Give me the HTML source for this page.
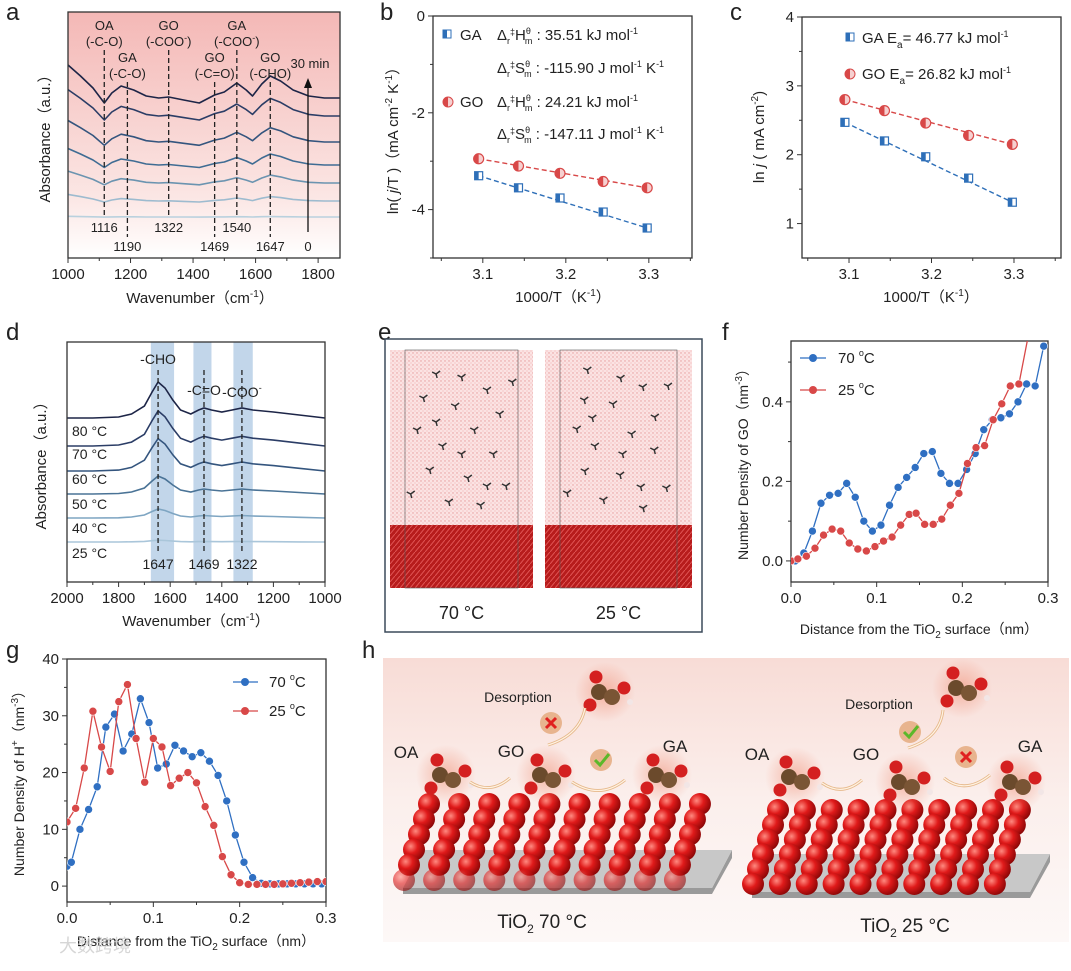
<!DOCTYPE html>
<html><head><meta charset="utf-8">
<style>
html,body{margin:0;padding:0;background:#fff;}
svg{display:block;font-family:"Liberation Sans","Noto Sans CJK SC",sans-serif;}
</style></head>
<body>
<svg id="fig" width="1071" height="971" viewBox="0 0 1071 971" xmlns="http://www.w3.org/2000/svg">
<defs>
 <linearGradient id="pinkA" x1="0" y1="0" x2="0" y2="1">
  <stop offset="0" stop-color="#f4b8b6"/><stop offset="0.75" stop-color="#fbe6e4"/><stop offset="1" stop-color="#ffffff"/>
 </linearGradient>
 <linearGradient id="bgH" x1="0" y1="0" x2="0" y2="1">
  <stop offset="0" stop-color="#f8dcd6"/><stop offset="0.5" stop-color="#fbefec"/><stop offset="1" stop-color="#fdf8f7"/>
 </linearGradient>
 <radialGradient id="ball" cx="0.35" cy="0.35" r="0.7">
  <stop offset="0" stop-color="#ff8a80"/><stop offset="0.45" stop-color="#e01a1a"/><stop offset="1" stop-color="#8a0606"/>
 </radialGradient>
 <radialGradient id="glow" cx="0.5" cy="0.5" r="0.5">
  <stop offset="0" stop-color="#f08a70" stop-opacity="0.55"/><stop offset="1" stop-color="#f08a70" stop-opacity="0"/>
 </radialGradient>
 <pattern id="water" width="4" height="4" patternUnits="userSpaceOnUse">
  <rect width="4" height="4" fill="#fbe3e3"/><circle cx="1" cy="1" r="0.7" fill="#e79a9a"/><circle cx="3" cy="3" r="0.6" fill="#f0b5b5"/>
 </pattern>
 <pattern id="crystal" width="5" height="6" patternUnits="userSpaceOnUse">
  <rect width="5" height="6" fill="#b71c1c"/><line x1="0" y1="6" x2="5" y2="0" stroke="#e05555" stroke-width="1"/>
 </pattern>
</defs>
<rect width="1071" height="971" fill="#fff"/>
<g id="root"></g>
</svg>
<script>
// ---------- DATA ----------
const aWaven = [1000,1040,1080,1116,1140,1170,1210,1250,1290,1322,1370,1420,1469,1500,1540,1570,1590,1620,1647,1680,1720,1770,1820,1870];
const aShape = [33,22,10,-5,5,12,8,2,0,1,-2,-5,3,6,15,8,2,14,22,17,8,2,0,0];
const aScales = [1,0.8,0.65,0.5,0.36,0.2,0.02];
const aBaselines = [98,116,142,165,183,201,217];
const aPeaks = [1116,1190,1322,1469,1540,1647];
const bX = [3.095,3.143,3.193,3.245,3.298];
const bGA = [-3.3,-3.55,-3.76,-4.05,-4.38];
const bGO = [-2.95,-3.1,-3.25,-3.42,-3.55];
const cX = [3.095,3.143,3.193,3.245,3.298];
const cGA = [2.47,2.2,1.97,1.66,1.31];
const cGO = [2.8,2.64,2.46,2.28,2.15];
const dWaven = [2000,1900,1800,1750,1700,1670,1647,1620,1590,1560,1520,1490,1469,1440,1400,1360,1322,1280,1200,1100,1000];
const dShape = [0,0,0.5,2,6,13,18,15,9,4,2,4,5,4,3,4,5,4,3,1.5,0];
const dScales = [2,1.95,1.8,1,0.5,0.1];
const dBaselines = [418,446,471,494,518,542];
const dLabels = ["80 °C","70 °C","60 °C","50 °C","40 °C","25 °C"];
const f70x = [0.005,0.015,0.025,0.035,0.045,0.055,0.065,0.075,0.085,0.095,0.105,0.115,0.125,0.135,0.145,0.155,0.165,0.175,0.185,0.195,0.205,0.215,0.225,0.235,0.245,0.255,0.265,0.275,0.285,0.295];
const f70y = [0,0.02,0.075,0.145,0.165,0.17,0.195,0.16,0.1,0.075,0.09,0.14,0.185,0.21,0.235,0.27,0.275,0.22,0.195,0.195,0.23,0.27,0.33,0.355,0.36,0.37,0.4,0.445,0.44,0.54];
const f25x = [0,0.008,0.018,0.028,0.038,0.048,0.058,0.068,0.078,0.088,0.098,0.108,0.118,0.128,0.138,0.146,0.156,0.166,0.176,0.186,0.196,0.206,0.216,0.226,0.236,0.246,0.256,0.266,0.28];
const f25y = [0,0.005,0.012,0.032,0.065,0.08,0.075,0.045,0.03,0.025,0.036,0.05,0.06,0.09,0.117,0.12,0.092,0.092,0.105,0.14,0.17,0.245,0.285,0.29,0.355,0.395,0.44,0.445,0.6];
const g70x = [0,0.005,0.015,0.025,0.035,0.045,0.055,0.065,0.075,0.085,0.095,0.105,0.115,0.125,0.135,0.145,0.155,0.165,0.175,0.185,0.195,0.205,0.215,0.225,0.235,0.245,0.255,0.265,0.275,0.285,0.295];
const g70y = [3.5,4.2,10,13.5,17.5,28,30.3,23.8,26.8,33,28.8,20.8,21.5,24.8,23.8,22.8,23.5,22,19.5,15,9,4.2,1.5,0.5,0.4,0.4,0.4,0.4,0.4,0.4,0.4];
const g25x = [0,0.01,0.02,0.03,0.04,0.05,0.06,0.07,0.08,0.09,0.1,0.11,0.12,0.13,0.14,0.15,0.16,0.17,0.18,0.19,0.2,0.21,0.22,0.23,0.24,0.25,0.26,0.27,0.28,0.29,0.3];
const g25y = [11.3,13.7,20.8,30.8,24.5,20.2,32.5,35.5,26,18.3,26,24.5,17.7,19,20,18.2,14,10.7,5.2,2,0.6,0.3,0.3,0.3,0.3,0.4,0.5,0.6,0.7,0.8,0.8];

const BLUE="#2f6fc2", RED="#d84848";
const NS="http://www.w3.org/2000/svg";
const root=document.getElementById('root');
function mk(tag,attrs,parent){const e=document.createElementNS(NS,tag);for(const k in attrs)e.setAttribute(k,attrs[k]);(parent||root).appendChild(e);return e;}
function txt(s,x,y,size,anchor,parent,extra){const t=mk('text',Object.assign({x:x,y:y,'font-size':size,'text-anchor':anchor||'middle',fill:'#222'},extra||{}),parent);t.innerHTML=s;return t;}
function lin(d0,d1,r0,r1){return v=>r0+(v-d0)*(r1-r0)/(d1-d0);}

[['a',6,20],['b',380,20],['c',730,20],['d',6,340],['e',378,340],['f',722,340],['g',6,658],['h',362,658]].forEach(p=>{
 const t=txt(p[0],p[1],p[2],24,'start');
 
 
});

function box(g,x0,y0,x1,y1){return mk('rect',{x:x0,y:y0,width:x1-x0,height:y1-y0,fill:'none',stroke:'#333','stroke-width':1.3},g);}

// ---------- PANEL A ----------
(function(){
 const g=mk('g',{});
 
 
 const X=lin(1000,1870,68,340);
 const bg=mk('rect',{x:68,y:12,width:272,height:246,fill:'url(#pinkA)'},g);
 
 
 const cols=['#1d2547','#2b3d66','#34557e','#3f6c93','#6b94b0','#9dbbcf','#b9d1de'];
 aScales.forEach((s,i)=>{
  let d='';aWaven.forEach((w,j)=>{d+=(j?'L':'M')+X(w).toFixed(1)+','+(aBaselines[i]-aShape[j]*s).toFixed(1);});
  const p=mk('path',{d:d,fill:'none',stroke:cols[i],'stroke-width':1.6,'stroke-linejoin':'round'},g);
  
  
 });
 const lab=[["OA","(-C-O)",30,46],["GA","(-C-O)",62,78],["GO","(-COO<tspan font-size='9' dy='-5'>-</tspan><tspan dy='5'>)</tspan>",30,46],["GO","(-C=O)",62,78],["GA","(-COO<tspan font-size='9' dy='-5'>-</tspan><tspan dy='5'>)</tspan>",30,46],["GO","(-CHO)",62,78]];
 const numY=[232,251,232,251,232,251];
 aPeaks.forEach((w,i)=>{
  const x=X(w);
  const l=mk('line',{x1:x,y1:lab[i][3]+4,x2:x,y2:numY[i]-14,stroke:'#222','stroke-width':1.3,'stroke-dasharray':'5,3'},g);
  
  
  txt(lab[i][0],x,lab[i][2],13,'middle',g);txt(lab[i][1],x,lab[i][3],13,'middle',g);
  txt(String(w),x,numY[i],13,'middle',g);
 });
 txt('30 min',310,68,13,'middle',g);txt('0',308,251,13,'middle',g);
 mk('line',{x1:308,y1:232,x2:308,y2:86,stroke:'#111','stroke-width':1.3},g);
 mk('path',{d:'M304,88 L308,78 L312,88Z',fill:'#111'},g);
 box(g,68,12,340,258);
 [1000,1200,1400,1600,1800].forEach(v=>{mk('line',{x1:X(v),y1:258,x2:X(v),y2:263,stroke:'#333'},g);txt(String(v),X(v),279,15,'middle',g);});
 [1100,1300,1500,1700].forEach(v=>mk('line',{x1:X(v),y1:258,x2:X(v),y2:261,stroke:'#333'},g));
 txt('Wavenumber（cm<tspan font-size="10" dy="-6">-1</tspan><tspan dy="6">）</tspan>',200,303,15,'middle',g);
 txt('Absorbance（a.u.）',0,0,15,'middle',g,{transform:'translate(50,135) rotate(-90)'});
})();

function scatterPanel(name,o){
 const g=mk('g',{});
 
 
 const X=lin(o.xd[0],o.xd[1],o.x0,o.x1),Y=lin(o.yd[0],o.yd[1],o.y1,o.y0);
 box(g,o.x0,o.y0,o.x1,o.y1);
 o.xt.forEach(v=>{mk('line',{x1:X(v),y1:o.y1,x2:X(v),y2:o.y1+5,stroke:'#333'},g);txt(o.xf(v),X(v),o.y1+21,15,'middle',g);});
 (o.xm||[]).forEach(v=>mk('line',{x1:X(v),y1:o.y1,x2:X(v),y2:o.y1+3,stroke:'#333'},g));
 o.yt.forEach(v=>{mk('line',{x1:o.x0,y1:Y(v),x2:o.x0-5,y2:Y(v),stroke:'#333'},g);txt(o.yf(v),o.x0-8,Y(v)+5,15,'end',g);});
 (o.ym||[]).forEach(v=>mk('line',{x1:o.x0,y1:Y(v),x2:o.x0-3,y2:Y(v),stroke:'#333'},g));
 const clip='clip-'+name;
 const cp=mk('clipPath',{id:clip},g);mk('rect',{x:o.x0,y:o.y0,width:o.x1-o.x0,height:o.y1-o.y0},cp);
 const inner=mk('g',{'clip-path':'url(#'+clip+')'},g);
 o.series.forEach(s=>{
  let d='';s.x.forEach((v,i)=>{d+=(i?'L':'M')+X(v).toFixed(1)+','+Y(s.y[i]).toFixed(1);});
  if(s.fit){d='M'+X(s.x[0])+','+Y(s.y[0])+'L'+X(s.x[s.x.length-1])+','+Y(s.y[s.y.length-1]);}
  const p=mk('path',{d:d,fill:'none',stroke:s.c,'stroke-width':s.fit?1.4:1.3,'stroke-dasharray':s.fit?'5,3':'none'},inner);
  
  
  s.x.forEach((v,i)=>{
   let m;
   if(s.sq){m=mk('rect',{x:X(v)-4,y:Y(s.y[i])-4,width:8,height:8,fill:'#fff',stroke:s.c,'stroke-width':1.2},inner);
     mk('rect',{x:X(v)-4,y:Y(s.y[i])-4,width:4,height:8,fill:s.c},inner);}
   else if(s.half){m=mk('circle',{cx:X(v),cy:Y(s.y[i]),r:5,fill:'#f6d0d0',stroke:s.c,'stroke-width':1.2},inner);
     mk('path',{d:`M${X(v)},${Y(s.y[i])-5}A5,5 0 0 0 ${X(v)},${Y(s.y[i])+5}Z`,fill:s.c},inner);}
   else {m=mk('circle',{cx:X(v),cy:Y(s.y[i]),r:4,fill:s.c,stroke:'#fff','stroke-width':0.6},inner);}
   
   
  });
 });
 return g;
}

// ---------- PANEL B ----------
(function(){
 const g=scatterPanel('panel-b-eyring-plot',{x0:433,x1:692,y0:16,y1:258,xd:[3.04,3.352],yd:[-5,0],
  xt:[3.1,3.2,3.3],xm:[3.05,3.15,3.25,3.35],xf:v=>v.toFixed(1),yt:[0,-2,-4],ym:[-1,-3,-5],yf:v=>String(v),
  series:[{n:'ga',x:bX,y:bGA,c:'#2e6fb8',sq:true,fit:true},{n:'go',x:bX,y:bGO,c:RED,half:true,fit:true}]});
 const H='Δ<tspan font-size="9" dy="4">r</tspan><tspan font-size="9" dy="-9">‡</tspan><tspan dy="5">H</tspan><tspan font-size="9" dy="-6">θ</tspan><tspan font-size="9" dx="-6" dy="10">m</tspan><tspan dy="-4">';
 const S='Δ<tspan font-size="9" dy="4">r</tspan><tspan font-size="9" dy="-9">‡</tspan><tspan dy="5">S</tspan><tspan font-size="9" dy="-6">θ</tspan><tspan font-size="9" dx="-6" dy="10">m</tspan><tspan dy="-4">';
 mk('rect',{x:443,y:30,width:8,height:8,fill:'#fff',stroke:'#2e6fb8'},g);mk('rect',{x:443,y:30,width:4,height:8,fill:'#2e6fb8'},g);
 txt('GA',460,40,15,'start',g);
 txt(H+' : 35.51 kJ mol<tspan font-size="9" dy="-6">-1</tspan></tspan>',497,40,15,'start',g);
 txt(S+' : -115.90 J mol<tspan font-size="9" dy="-6">-1</tspan><tspan dy="6"> K</tspan><tspan font-size="9" dy="-6">-1</tspan></tspan>',497,73,15,'start',g);
 mk('circle',{cx:448,cy:102,r:5,fill:'#f6d0d0',stroke:RED},g);mk('path',{d:'M448,97A5,5 0 0 0 448,107Z',fill:RED},g);
 txt('GO',460,107,15,'start',g);
 txt(H+' : 24.21 kJ mol<tspan font-size="9" dy="-6">-1</tspan></tspan>',497,107,15,'start',g);
 txt(S+' : -147.11 J mol<tspan font-size="9" dy="-6">-1</tspan><tspan dy="6"> K</tspan><tspan font-size="9" dy="-6">-1</tspan></tspan>',497,139,15,'start',g);
 txt('1000/T（K<tspan font-size="10" dy="-6">-1</tspan><tspan dy="6">）</tspan>',563,302,15,'middle',g);
 txt('ln( <tspan font-style="italic">j</tspan>/T )（mA cm<tspan font-size="10" dy="-6">-2</tspan><tspan dy="6"> K</tspan><tspan font-size="10" dy="-6">-1</tspan><tspan dy="6">）</tspan>',0,0,15,'middle',g,{transform:'translate(398,137) rotate(-90)'});
})();

// ---------- PANEL C ----------
(function(){
 const g=scatterPanel('panel-c-arrhenius-plot',{x0:802,x1:1061,y0:17,y1:258,xd:[3.043,3.357],yd:[0.5,4],
  xt:[3.1,3.2,3.3],xm:[3.05,3.15,3.25,3.35],xf:v=>v.toFixed(1),yt:[1,2,3,4],ym:[1.5,2.5,3.5],yf:v=>String(v),
  series:[{n:'ga',x:cX,y:cGA,c:'#2e6fb8',sq:true,fit:true},{n:'go',x:cX,y:cGO,c:RED,half:true,fit:true}]});
 mk('rect',{x:846,y:33,width:8,height:8,fill:'#fff',stroke:'#2e6fb8'},g);mk('rect',{x:846,y:33,width:4,height:8,fill:'#2e6fb8'},g);
 txt('GA  E<tspan font-size="10" dy="5">a</tspan><tspan dy="-5">= 46.77 kJ mol</tspan><tspan font-size="9" dy="-6">-1</tspan>',862,43,15,'start',g);
 mk('circle',{cx:850,cy:74,r:5,fill:'#f6d0d0',stroke:RED},g);mk('path',{d:'M850,69A5,5 0 0 0 850,79Z',fill:RED},g);
 txt('GO  E<tspan font-size="10" dy="5">a</tspan><tspan dy="-5">= 26.82 kJ mol</tspan><tspan font-size="9" dy="-6">-1</tspan>',862,79,15,'start',g);
 txt('1000/T（K<tspan font-size="10" dy="-6">-1</tspan><tspan dy="6">）</tspan>',931,302,15,'middle',g);
 txt('ln <tspan font-style="italic">j</tspan> ( mA cm<tspan font-size="10" dy="-6">-2</tspan><tspan dy="6">)</tspan>',0,0,15,'middle',g,{transform:'translate(764,137) rotate(-90)'});
})();

// ---------- PANEL D ----------
(function(){
 const g=mk('g',{});
 
 
 const X=lin(2000,1000,67,325);
 [[1675,1585],[1510,1440],[1355,1280]].forEach((b,i)=>{
  const r=mk('rect',{x:X(b[0]),y:342,width:X(b[1])-X(b[0]),height:240,fill:'#b7cfe6',opacity:0.85},g);
  
  
 });
 const cols=['#1d2547','#2b3d66','#34557e','#4a7396','#7ea5c2','#aac6da'];
 dScales.forEach((s,i)=>{
  let d='';dWaven.forEach((w,j)=>{d+=(j?'L':'M')+X(w).toFixed(1)+','+(dBaselines[i]-dShape[j]*s).toFixed(1);});
  const p=mk('path',{d:d,fill:'none',stroke:cols[i],'stroke-width':1.6},g);
  
  
  txt(dLabels[i],72,[436,459,484,509,533,558][i],14,'start',g);
 });
 [[1647,'-CHO',364,569],[1469,'-C=O',395,569],[1322,'-COO<tspan font-size="9" dy="-6">-</tspan>',397,569]].forEach(p=>{
  const x=X(p[0]);
  mk('line',{x1:x,y1:370,x2:x,y2:553,stroke:'#222','stroke-width':1.3,'stroke-dasharray':'5,3'},g);
  txt(p[1],x,p[2],14,'middle',g);txt(String(p[0]),x,p[3],14,'middle',g);
 });
 box(g,67,342,325,582);
 [2000,1800,1600,1400,1200,1000].forEach(v=>{mk('line',{x1:X(v),y1:582,x2:X(v),y2:587,stroke:'#333'},g);txt(String(v),X(v),603,15,'middle',g);});
 [1900,1700,1500,1300,1100].forEach(v=>mk('line',{x1:X(v),y1:582,x2:X(v),y2:585,stroke:'#333'},g));
 txt('Wavenumber（cm<tspan font-size="10" dy="-6">-1</tspan><tspan dy="6">）</tspan>',196,626,15,'middle',g);
 txt('Absorbance（a.u.）',0,0,15,'middle',g,{transform:'translate(46,462) rotate(-90)'});
})();

// ---------- PANEL E ----------
(function(){
 const g=mk('g',{});
 
 
 mk('rect',{x:385,y:339,width:317,height:293,fill:'#fff',stroke:'#3b4a5a','stroke-width':1.5},g);
 const mols=[[0.3,0.1],[0.5,0.12],[0.7,0.2],[0.2,0.25],[0.45,0.3],[0.8,0.35],[0.15,0.45],[0.6,0.45],[0.35,0.55],[0.75,0.6],[0.25,0.7],[0.55,0.75],[0.85,0.8],[0.4,0.9],[0.65,0.92],[0.1,0.85],[0.9,0.15],[0.5,0.6],[0.3,0.4],[0.7,0.8]];
 [[390,533,'70 °C'],[545,692,'25 °C']].forEach((b,k)=>{
  const w=b[1]-b[0];
  const r=mk('rect',{x:b[0],y:350,width:w,height:176,fill:'url(#water)'},g);
  
  
  const c=mk('rect',{x:b[0],y:525,width:w,height:63,fill:'url(#crystal)'},g);
  
  
  mk('rect',{x:b[0]+15,y:350,width:w-30,height:238,fill:'none',stroke:'#555','stroke-width':0.6},g);
  mols.forEach((m,i)=>{
   const mx=b[0]+8+m[0]*(w-16)+(k?((i*7)%11-5):0), my=358+m[1]*160+(k?((i*5)%9-4):0);
   mk('path',{d:`M${mx-4},${my-2}L${mx},${my}L${mx+4},${my-3}M${mx},${my}L${mx+1},${my+4}`,stroke:'#333','stroke-width':1.5,fill:'none'},g);
  });
  const t=txt(b[2],(b[0]+b[1])/2,619,18,'middle',g);
  
  
 });
})();

// ---------- PANEL F ----------
(function(){
 const g=scatterPanel('panel-f-go-density',{x0:791,x1:1048,y0:341,y1:582,xd:[0,0.3],yd:[-0.053,0.553],
  xt:[0,0.1,0.2,0.3],xm:[0.05,0.15,0.25],xf:v=>v===0?'0.0':v.toFixed(1),yt:[0,0.2,0.4],ym:[0.1,0.3,0.5],yf:v=>v.toFixed(1),
  series:[{n:'go-70c',x:f70x,y:f70y,c:BLUE},{n:'go-25c',x:f25x,y:f25y,c:RED}]});
 [[358,BLUE,'70 '],[390,RED,'25 ']].forEach(l=>{
  mk('line',{x1:800,y1:l[0],x2:826,y2:l[0],stroke:l[1],'stroke-width':1.3},g);
  mk('circle',{cx:813,cy:l[0],r:4,fill:l[1]},g);
  txt(l[2]+'<tspan font-size="9" dy="-7">o</tspan><tspan dy="7">C</tspan>',838,l[0]+5,15,'start',g);
 });
 txt('Distance from the TiO<tspan font-size="10" dy="4">2</tspan><tspan dy="-4"> surface（nm）</tspan>',919,634,14,'middle',g);
 txt('Number Density of GO（nm<tspan font-size="10" dy="-6">-3</tspan><tspan dy="6">）</tspan>',0,0,14,'middle',g,{transform:'translate(748,461) rotate(-90)'});
})();

// ---------- PANEL G ----------
(function(){
 const g=scatterPanel('panel-g-h-density',{x0:67,x1:326,y0:659,y1:902,xd:[0,0.3],yd:[-2.8,40],
  xt:[0,0.1,0.2,0.3],xm:[0.05,0.15,0.25],xf:v=>v===0?'0.0':v.toFixed(1),yt:[0,10,20,30,40],ym:[5,15,25,35],yf:v=>String(v),
  series:[{n:'h-70c',x:g70x,y:g70y,c:BLUE},{n:'h-25c',x:g25x,y:g25y,c:RED}]});
 [[682,BLUE,'70 '],[711,RED,'25 ']].forEach(l=>{
  mk('line',{x1:233,y1:l[0],x2:258,y2:l[0],stroke:l[1],'stroke-width':1.3},g);
  mk('circle',{cx:245,cy:l[0],r:4,fill:l[1]},g);
  txt(l[2]+'<tspan font-size="9" dy="-7">o</tspan><tspan dy="7">C</tspan>',269,l[0]+5,15,'start',g);
 });
 txt('Distance from the TiO<tspan font-size="10" dy="4">2</tspan><tspan dy="-4"> surface（nm）</tspan>',196,946,14,'middle',g);
 txt('Number Density of H<tspan font-size="10" dy="-6">+</tspan><tspan dy="6">（nm</tspan><tspan font-size="10" dy="-6">-3</tspan><tspan dy="6">）</tspan>',0,0,14,'middle',g,{transform:'translate(24,780) rotate(-90)'});
 const w=txt('大数跨境',95,952,18,'middle',g,{fill:'#ccc',opacity:0.8});
 
 
})();

// ---------- PANEL H ----------
(function(){
 const g=mk('g',{});
 
 
 mk('rect',{x:383,y:658,width:686,height:284,fill:'url(#bgH)'},g);
 function slab(x0,x1,ytop,ybot,opac){
  const s=mk('g',{},g);
  
  
  mk('polygon',{points:`${x0},${ybot+8} ${x1-20},${ybot+8} ${x1},${ybot-30} ${x1},${ybot-22} ${x1-20},${ybot+14} ${x0},${ybot+14}`,fill:'#9a9a9a'},s);
  mk('polygon',{points:`${x0},${ybot+8} ${x1-20},${ybot+8} ${x1},${ybot-30} ${x0+20},${ybot-30}`,fill:'#c8c8c8'},s);
  const rows=6;
  for(let r=0;r<rows;r++){
   const y=ytop+r*(ybot-ytop)/(rows-1);
   const xs=x0+26-r*5;
   for(let c=0;c<10;c++){
    mk('circle',{cx:xs+c*((x1-x0-40)/9.6),cy:y,r:11,fill:'url(#ball)',opacity:r===rows-1?opac:1},s);
   }
  }
 }
 slab(403,732,804,880,0.6);
 slab(752,1050,810,884,1);
 function mol(cx,cy,name){
  const m=mk('g',{},g);
  
  
  mk('circle',{cx:cx,cy:cy,r:30,fill:'url(#glow)'},m);
  mk('circle',{cx:cx-9,cy:cy-15,r:6.5,fill:'#d42020'},m);
  mk('circle',{cx:cx-15,cy:cy+13,r:6.5,fill:'#d42020'},m);
  mk('circle',{cx:cx+19,cy:cy-4,r:6.5,fill:'#d42020'},m);
  mk('circle',{cx:cx-6,cy:cy,r:8,fill:'#6b4a2c'},m);
  mk('circle',{cx:cx+7,cy:cy+5,r:8,fill:'#7a5535'},m);
  mk('circle',{cx:cx+25,cy:cy+10,r:3,fill:'#f2e6e6'},m);
 }
 function arrow(d,name){
  const a=mk('path',{d:d,fill:'none',stroke:'#e6b88a','stroke-width':3},g);
  
  
  mk('path',{d:d,fill:'none',stroke:'#fff2e2','stroke-width':1.2},g);
 }
 function badge(cx,cy,ok,name){
  const b=mk('g',{},g);
  
  
  mk('circle',{cx:cx,cy:cy,r:11,fill:'#e8b48e'},b);
  if(ok)mk('path',{d:`M${cx-6},${cy} L${cx-1},${cy+5} L${cx+8},${cy-6}`,stroke:'#5cb82a','stroke-width':3,fill:'none'},b);
  else mk('path',{d:`M${cx-5},${cy-5}L${cx+5},${cy+5}M${cx+5},${cy-5}L${cx-5},${cy+5}`,stroke:'#e02020','stroke-width':3},b);
 }
 txt('OA',406,758,17,'middle',g);txt('GO',511,757,17,'middle',g);txt('GA',675,752,17,'middle',g);
 txt('Desorption',518,702,14,'middle',g);
 mol(446,775,'oa-molecule');mol(546,775,'go-molecule');mol(662,775,'ga-molecule');mol(605,692,'desorbed-go-molecule');
 arrow('M470,782 Q490,795 510,778','arrow-oa-go');
 arrow('M572,782 Q600,800 625,780','arrow-go-ga');
 arrow('M548,745 Q580,735 585,708','arrow-desorption');
 badge(551,723,false,'desorption-blocked');badge(601,760,true,'conversion-ok');
 txt('TiO<tspan font-size="12" dy="5">2</tspan><tspan dy="-5"> 70 °C</tspan>',542,928,19,'middle',g);
 txt('OA',757,760,17,'middle',g);txt('GO',866,760,17,'middle',g);txt('GA',1030,752,17,'middle',g);
 txt('Desorption',879,709,14,'middle',g);
 mol(795,777,'oa-molecule');mol(905,782,'go-molecule');mol(1016,782,'ga-molecule');mol(962,688,'desorbed-go-molecule');
 arrow('M822,783 Q842,797 862,780','arrow-oa-go');
 arrow('M944,778 Q965,795 990,775','arrow-go-ga');
 arrow('M908,748 Q940,738 943,710','arrow-desorption');
 badge(910,732,true,'desorption-ok');badge(966,757,false,'conversion-blocked');
 txt('TiO<tspan font-size="12" dy="5">2</tspan><tspan dy="-5"> 25 °C</tspan>',905,932,19,'middle',g);
})();
</script>
</body></html>
